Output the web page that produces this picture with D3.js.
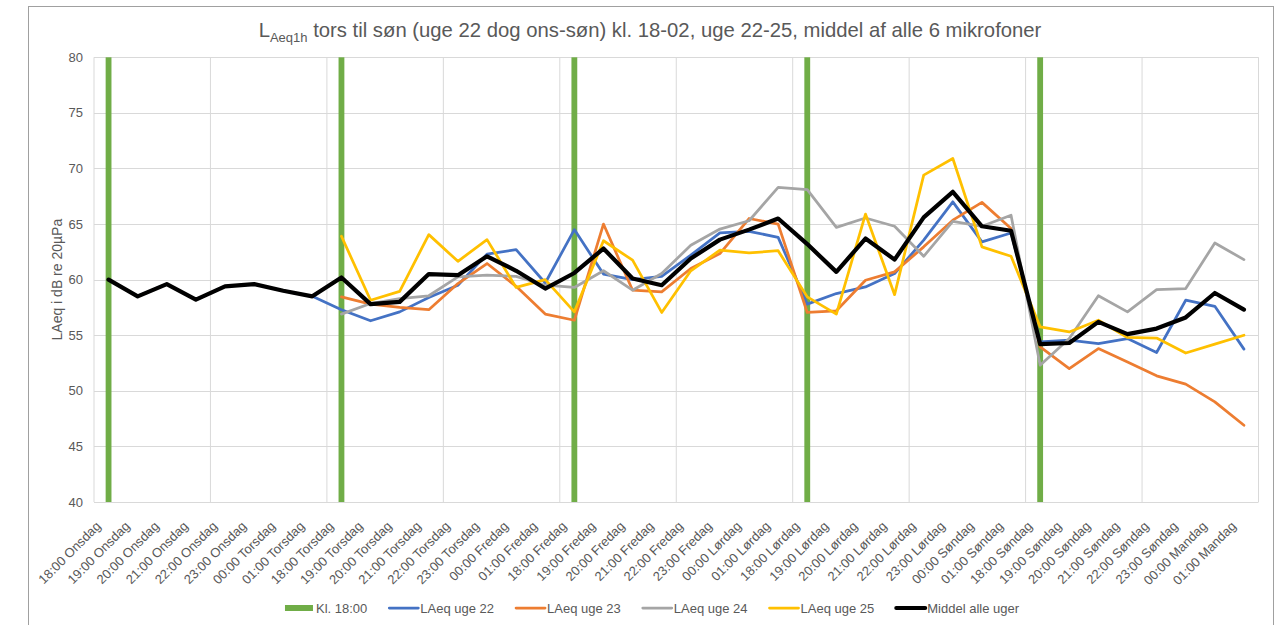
<!DOCTYPE html>
<html><head><meta charset="utf-8">
<script src="https://cdn.jsdelivr.net/npm/d3@7"></script>
<style>
body{margin:0;background:#fff;}
text{font-family:"Liberation Sans",Arial,sans-serif;}
</style>
</head><body>
<svg id="chart" width="1286" height="625"></svg>
<script>
const categories = [
  "18:00 Onsdag","19:00 Onsdag","20:00 Onsdag","21:00 Onsdag","22:00 Onsdag","23:00 Onsdag","00:00 Torsdag","01:00 Torsdag",
  "18:00 Torsdag","19:00 Torsdag","20:00 Torsdag","21:00 Torsdag","22:00 Torsdag","23:00 Torsdag","00:00 Fredag","01:00 Fredag",
  "18:00 Fredag","19:00 Fredag","20:00 Fredag","21:00 Fredag","22:00 Fredag","23:00 Fredag","00:00 Lørdag","01:00 Lørdag",
  "18:00 Lørdag","19:00 Lørdag","20:00 Lørdag","21:00 Lørdag","22:00 Lørdag","23:00 Lørdag","00:00 Søndag","01:00 Søndag",
  "18:00 Søndag","19:00 Søndag","20:00 Søndag","21:00 Søndag","22:00 Søndag","23:00 Søndag","00:00 Mandag","01:00 Mandag"
];
const kl1800 = [80,null,null,null,null,null,null,null, 80,null,null,null,null,null,null,null,
  80,null,null,null,null,null,null,null, 80,null,null,null,null,null,null,null, 80,null,null,null,null,null,null,null];
const uge22 = [60.0,58.5,59.6,58.2,59.4,59.6,59.0,58.5,
  57.3,56.3,57.1,58.4,59.5,62.3,62.7,59.7,
  64.5,60.5,60.0,60.3,62.2,64.2,64.35,63.8,
  57.8,58.75,59.35,60.55,63.55,67.0,63.4,64.2,
  54.4,54.55,54.25,54.7,53.45,58.15,57.6,53.75];
const uge23 = [null,null,null,null,null,null,null,null,
  58.45,57.8,57.5,57.3,59.65,61.45,59.4,56.9,
  56.35,65.0,59.05,58.9,61.0,62.35,65.5,65.0,
  57.05,57.2,59.95,60.7,62.95,65.35,66.95,64.6,
  53.95,52.0,53.8,52.6,51.35,50.6,49.0,46.9];
const uge24 = [null,null,null,null,null,null,null,null,
  56.9,57.85,58.3,58.55,60.25,60.4,60.3,59.5,
  59.3,60.8,59.05,60.55,63.1,64.55,65.3,68.3,
  68.1,64.7,65.55,64.8,62.1,65.25,64.8,65.8,
  52.3,54.7,58.55,57.1,59.1,59.2,63.3,61.8];
const uge25 = [null,null,null,null,null,null,null,null,
  63.9,58.15,58.95,64.05,61.65,63.6,59.3,60.0,
  57.1,63.5,61.75,57.05,60.8,62.65,62.4,62.6,
  58.45,56.9,65.9,58.65,69.4,70.9,62.95,62.1,
  55.75,55.3,56.35,54.8,54.75,53.4,54.2,55.0];
const middel = [60.0,58.5,59.6,58.2,59.4,59.6,59.0,58.5,
  60.2,57.8,58.0,60.5,60.4,62.1,60.8,59.2,
  60.6,62.8,60.1,59.5,61.9,63.6,64.5,65.5,
  63.2,60.7,63.7,61.8,65.6,67.9,64.8,64.4,
  54.2,54.3,56.2,55.1,55.6,56.6,58.8,57.3];
const yTicks = [40,45,50,55,60,65,70,75,80];
const seriesNames = ["Kl. 18:00","LAeq uge 22","LAeq uge 23","LAeq uge 24","LAeq uge 25","Middel alle uger"];
const seriesColors = ["#70AD47","#4472C4","#ED7D31","#A5A5A5","#FFC000","#000000"];
const titleMain = "L";
const titleSub = "Aeq1h";
const titleRest = " tors til søn (uge 22 dog ons-søn) kl. 18-02, uge 22-25, middel af alle 6 mikrofoner";
const yTitle = "LAeq i dB re 20µPa";

const svg = d3.select("#chart");
const W = 1286, H = 625;
const plot = {left: 94, right: 1258.5, top: 57.3, bottom: 502};
const txt = "#595959";

svg.append("rect").attr("x",0).attr("y",0).attr("width",W).attr("height",H).attr("fill","#fff");
// outer chart border
svg.append("rect").attr("x",28.5).attr("y",6.5).attr("width",1245).attr("height",H+10)
  .attr("fill","none").attr("stroke","#a0a0a0").attr("stroke-width",1);

const x = d3.scaleBand().domain(categories).range([plot.left, plot.right]).padding(0);
const bw = x.bandwidth();
const cx = i => x(categories[i]) + bw/2;
const y = d3.scaleLinear().domain([40,80]).range([plot.bottom, plot.top]);

// horizontal gridlines
svg.append("g").selectAll("line").data(yTicks).join("line")
  .attr("x1",plot.left).attr("x2",plot.right)
  .attr("y1",d=>Math.round(y(d))+0.5).attr("y2",d=>Math.round(y(d))+0.5)
  .attr("stroke","#d9d9d9").attr("stroke-width",1);
// vertical gridlines every 4 categories (+ borders)
const vIdx = d3.range(0, categories.length+1, 4);
svg.append("g").selectAll("line").data(vIdx).join("line")
  .attr("x1",d=> d<categories.length ? x(categories[d]) : plot.right)
  .attr("x2",d=> d<categories.length ? x(categories[d]) : plot.right)
  .attr("y1",plot.top).attr("y2",plot.bottom)
  .attr("stroke","#d9d9d9").attr("stroke-width",1);

// y tick labels
svg.append("g").selectAll("text").data(yTicks).join("text")
  .attr("x",plot.left-11).attr("y",d=>y(d)).attr("dy","0.35em")
  .attr("text-anchor","end").attr("font-size",13).attr("fill",txt).text(d=>d);

// x tick labels
svg.append("g").selectAll("text").data(categories).join("text")
  .attr("transform",(d,i)=>`translate(${cx(i)-7},${plot.bottom+25}) rotate(-45)`)
  .attr("text-anchor","end").attr("font-size",13).attr("fill",txt).text(d=>d);

// green bars
const barW = bw*0.2;
svg.append("g").selectAll("rect").data(kl1800.map((v,i)=>({v,i})).filter(d=>d.v!=null)).join("rect")
  .attr("x",d=>cx(d.i)-barW/2).attr("width",barW)
  .attr("y",d=>y(d.v)).attr("height",d=>y(40)-y(d.v))
  .attr("fill",seriesColors[0]);

// lines
const line = d3.line().defined(d=>d!=null).x((d,i)=>cx(i)).y(d=>y(d));
const lineSeries = [uge22,uge23,uge24,uge25,middel];
const widths = [2.75,2.75,2.75,2.75,4.2];
lineSeries.forEach((s,k)=>{
  svg.append("path").datum(s).attr("d",line).attr("fill","none")
    .attr("stroke",seriesColors[k+1]).attr("stroke-width",widths[k])
    .attr("stroke-linejoin","round").attr("stroke-linecap","round");
});

// title
const t = svg.append("text").attr("x",650).attr("y",37).attr("text-anchor","middle")
  .attr("font-size",20.3).attr("fill",txt);
t.append("tspan").text(titleMain);
t.append("tspan").attr("font-size",13).attr("dy",5).text(titleSub);
t.append("tspan").attr("dy",-5).text(titleRest);

// y axis title
svg.append("text").attr("transform",`translate(62,${(plot.top+plot.bottom)/2}) rotate(-90)`)
  .attr("text-anchor","middle").attr("font-size",14).attr("fill",txt).text(yTitle);

// legend
const lg = svg.append("g");
const items = seriesNames.map((n,k)=>{
  const g = lg.append("g");
  if(k===0){
    g.append("rect").attr("x",0).attr("y",-3).attr("width",28).attr("height",6).attr("fill",seriesColors[k]);
  } else {
    g.append("line").attr("x1",0).attr("x2",29).attr("y1",0).attr("y2",0)
      .attr("stroke",seriesColors[k]).attr("stroke-width",k===5?4:2.75).attr("stroke-linecap","round");
  }
  const tx = g.append("text").attr("x",31).attr("y",0).attr("dy","0.35em").attr("font-size",13).attr("fill",txt).text(n);
  return {g, w: 31 + tx.node().getComputedTextLength()};
});
const gap = 22;
const total = d3.sum(items,d=>d.w) + gap*(items.length-1);
let pos = 652 - total/2;
items.forEach(it=>{ it.g.attr("transform",`translate(${pos},608)`); pos += it.w + gap; });
</script>
</body></html>
